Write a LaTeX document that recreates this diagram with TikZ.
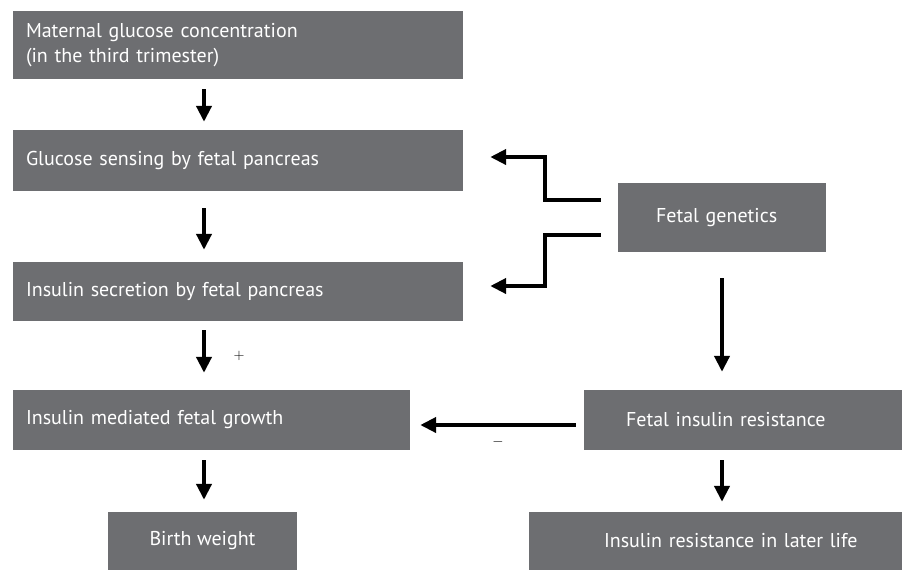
\documentclass[tikz,border=0pt]{standalone}
\usepackage{fontspec}
\setmainfont{PT Sans}
\usetikzlibrary{arrows.meta,calc}
\definecolor{boxgray}{HTML}{6D6E71}
\begin{document}
\begin{tikzpicture}[x=1pt,y=-1pt,
  box/.style={fill=boxgray,text=white,inner sep=0pt,font=\fontsize{20}{25}\selectfont},
  pbox/.style 2 args={box,minimum width=#1,text width=#1,align=left,execute at begin node={\hspace*{#2}}},
  arr/.style={line width=4pt,-{Triangle[length=16pt,width=15pt]}},
  sign/.style={font=\fontsize{15}{17}\selectfont,inner sep=0pt}]
\useasboundingbox (0,0) rectangle (909,571);
\fill[white] (0,0) rectangle (909,571);
% boxes
\node[box,minimum width=450pt,text width=424pt,align=left,minimum height=68pt] (b1) at (238,45) {Maternal glucose concentration\\(in the third trimester)};
\node[pbox={450pt}{13pt},minimum height=61pt] (b2) at (238,160.5) {Glucose sensing by fetal pancreas};
\node[pbox={450pt}{13pt},minimum height=59pt] (b3) at (238,291.5) {Insulin secretion by fetal pancreas};
\node[pbox={397pt}{13pt},minimum height=60pt] (b4) at (211.5,420) {Insulin mediated fetal growth};
\node[box,minimum width=189pt,minimum height=58pt,align=center] (b5) at (202.5,541) {Birth weight};
\node[pbox={208pt}{38pt},minimum height=69pt] (gen) at (722,217.5) {Fetal genetics};
\node[pbox={318pt}{42pt},minimum height=60pt] (b7) at (743,420) {Fetal insulin resistance};
\node[pbox={373pt}{75pt},minimum height=58pt] (b8) at (715.5,541) {Insulin resistance in later life};
% helper coordinates
\coordinate (ax) at (204,0);
\coordinate (rx) at (722,0);
% arrows, left column
\draw[arr,shorten <=10pt,shorten >=8pt] (b1.south -| ax) -- (b2.north -| ax);
\draw[arr,shorten <=17pt,shorten >=12pt] (b2.south -| ax) -- (b3.north -| ax);
\draw[arr,shorten <=9pt,shorten >=17pt] (b3.south -| ax) -- (b4.north -| ax);
\draw[arr,shorten <=10pt,shorten >=12pt] (b4.south -| ax) -- (b5.north -| ax);
% genetics elbows
\draw[arr,shorten >=27pt] ($(gen.west)+(-17,-17.5)$) -- ++(-56,0) |- ($(b2.east)+(0,-3.5)$);
\draw[arr,shorten >=27pt] ($(gen.west)+(-17,17.5)$) -- ++(-56,0) |- ($(b3.east)+(0,-5.5)$);
% right column
\draw[arr,shorten <=26pt,shorten >=18pt] (gen.south -| rx) -- (b7.north -| rx);
\draw[arr,shorten <=10pt,shorten >=10pt] (b7.south -| rx) -- (b8.north -| rx);
% inhibition
\draw[arr,shorten <=8pt,shorten >=10pt] ($(b7.west)+(0,5)$) -- ($(b4.east)+(0,5)$);
% signs
\node[sign] (plus) at (239,356) {$+$};
\node[sign] (minus) at (498,442) {$-$};
\end{tikzpicture}
\end{document}
